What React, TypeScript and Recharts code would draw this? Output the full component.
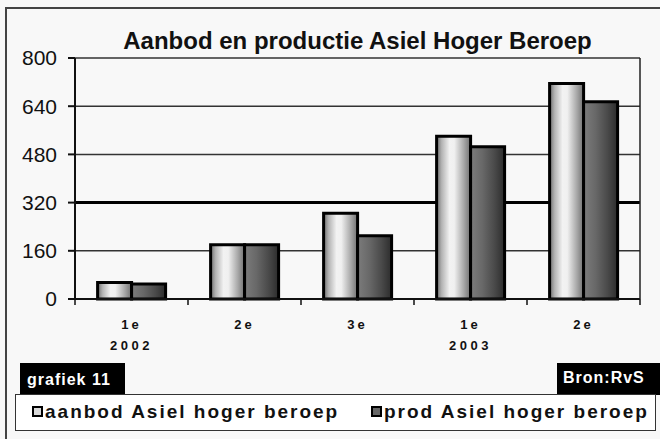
import React from 'react';
import {
  BarChart,
  Bar,
  XAxis,
  YAxis,
  CartesianGrid,
} from 'recharts';

// Kwartalen en jaren op de x-as
const quarters = ['1e', '2e', '3e', '1e', '2e'];
const years = ['2002', '', '', '2003', ''];

// Aantallen per kwartaal
const aanbod = [55, 180, 285, 540, 715];
const productie = [50, 180, 210, 505, 655];

const yTicks = [0, 160, 320, 480, 640, 800];
const boldTick = 320;

const seriesNames = ['aanbod Asiel hoger beroep', 'prod Asiel hoger beroep'];

const data = quarters.map((q, i) => ({
  key: `${q}-${i}`,
  quarter: q,
  year: years[i],
  aanbod: aanbod[i],
  prod: productie[i],
}));

const FONT = '"Liberation Sans", Arial, sans-serif';

// gridlijn; de lijn bij 320 is dikker, net als in het origineel
const GridLine = (props: any) => {
  const { x1, x2, y1, y2, index } = props;
  const thick = yTicks[index] === boldTick;
  return (
    <line
      x1={x1}
      x2={x2}
      y1={y1}
      y2={y2}
      stroke={thick ? '#000' : '#333'}
      strokeWidth={thick ? 3 : 1.5}
    />
  );
};

const QuarterTick = (props: any) => {
  const { x, y, payload, index } = props;
  const half = payload && payload.offset ? payload.offset : 0;
  const row = data[index] || data.find((d) => d.key === payload.value);
  const isLast = index === data.length - 1;
  return (
    <g>
      <line x1={x - half} y1={y} x2={x - half} y2={y + 6} stroke="#111" strokeWidth={1.5} />
      {isLast && (
        <line x1={x + half} y1={y} x2={x + half} y2={y + 6} stroke="#111" strokeWidth={1.5} />
      )}
      <text
        x={x}
        y={y}
        dy={30}
        textAnchor="middle"
        fontFamily={FONT}
        fontSize={13}
        fontWeight="bold"
        letterSpacing={3}
        fill="#111"
      >
        {row ? row.quarter : ''}
      </text>
      {row && row.year && (
        <text
          x={x}
          y={y}
          dy={51}
          textAnchor="middle"
          fontFamily={FONT}
          fontSize={13}
          fontWeight="bold"
          letterSpacing={3.5}
          fill="#111"
        >
          {row.year}
        </text>
      )}
    </g>
  );
};

const LegendSwatch = ({ fill }: { fill: string }) => (
  <span
    style={{
      display: 'inline-block',
      width: 7,
      height: 7,
      border: '2px solid #000',
      background: fill,
      marginRight: 2,
      verticalAlign: 'middle',
      position: 'relative',
      top: -1,
    }}
  />
);

export default function App() {
  return (
    <div
      style={{
        position: 'absolute',
        left: 0,
        top: 0,
        width: 660,
        height: 439,
        overflow: 'hidden',
        background: '#f8f8f8',
        fontFamily: FONT,
      }}
    >
      {/* kader om de hele grafiek */}
      <div
        style={{
          position: 'absolute',
          left: 5,
          top: 7,
          width: 700,
          height: 500,
          border: '2px solid #444',
          boxSizing: 'border-box',
        }}
      />

      <div
        style={{
          position: 'absolute',
          left: 75,
          width: 565,
          top: 26,
          textAlign: 'center',
          fontSize: 24,
          fontWeight: 'bold',
          color: '#111',
          lineHeight: '30px',
        }}
      >
        Aanbod en productie Asiel Hoger Beroep
      </div>

      <div style={{ position: 'absolute', left: 0, top: 0 }}>
        <BarChart
          width={660}
          height={439}
          data={data}
          margin={{ top: 58, right: 0, bottom: 80, left: 0 }}
          barCategoryGap="20%"
          barGap={0}
        >
          <defs>
            <linearGradient id="gradAanbod" x1="0" y1="0" x2="1" y2="0">
              <stop offset="0%" stopColor="#6e6e6e" />
              <stop offset="15%" stopColor="#b4b4b4" />
              <stop offset="38%" stopColor="#f2f2f2" />
              <stop offset="52%" stopColor="#f0f0f0" />
              <stop offset="80%" stopColor="#a8a8a8" />
              <stop offset="100%" stopColor="#707070" />
            </linearGradient>
            <linearGradient id="gradProd" x1="0" y1="0" x2="1" y2="0">
              <stop offset="0%" stopColor="#7c7c7c" />
              <stop offset="35%" stopColor="#686868" />
              <stop offset="70%" stopColor="#4a4a4a" />
              <stop offset="100%" stopColor="#2c2c2c" />
            </linearGradient>
          </defs>
          <CartesianGrid vertical={false} horizontal={GridLine} />
          <XAxis
            dataKey="key"
            height={60}
            tickLine={false}
            tickSize={0}
            tickMargin={0}
            axisLine={{ stroke: '#111', strokeWidth: 2 }}
            tick={<QuarterTick />}
            interval={0}
          />
          <YAxis
            width={75}
            domain={[0, 800]}
            ticks={yTicks}
            interval={0}
            tickSize={7}
            tickMargin={11}
            axisLine={{ stroke: '#111', strokeWidth: 2 }}
            tickLine={{ stroke: '#111', strokeWidth: 2 }}
            tick={{ fontFamily: FONT, fontSize: 21, fill: '#111' }}
          />
          <YAxis
            yAxisId="frame"
            orientation="right"
            width={20}
            domain={[0, 800]}
            tick={false}
            tickLine={false}
            axisLine={{ stroke: '#222', strokeWidth: 1.5 }}
          />
          <Bar
            dataKey="aanbod"
            name={seriesNames[0]}
            fill="url(#gradAanbod)"
            stroke="#000"
            strokeWidth={3}
            isAnimationActive={false}
          />
          <Bar
            dataKey="prod"
            name={seriesNames[1]}
            fill="url(#gradProd)"
            stroke="#000"
            strokeWidth={3}
            isAnimationActive={false}
          />
        </BarChart>
      </div>

      <div
        style={{
          position: 'absolute',
          left: 20,
          top: 363,
          width: 105,
          height: 32,
          background: '#000',
          color: '#fff',
          fontSize: 16,
          fontWeight: 'bold',
          letterSpacing: 1,
          lineHeight: '34px',
          paddingLeft: 7,
          boxSizing: 'border-box',
        }}
      >
        grafiek 11
      </div>
      <div
        style={{
          position: 'absolute',
          left: 557,
          top: 363,
          width: 110,
          height: 32,
          background: '#000',
          color: '#fff',
          fontSize: 16,
          fontWeight: 'bold',
          letterSpacing: 1,
          lineHeight: '30px',
          paddingLeft: 6,
          boxSizing: 'border-box',
        }}
      >
        Bron:RvS
      </div>

      <div
        style={{
          position: 'absolute',
          left: 15,
          top: 394,
          width: 641,
          height: 37,
          background: '#fff',
          border: '1.5px solid #333',
          boxSizing: 'border-box',
          fontSize: 19,
          fontWeight: 'bold',
          letterSpacing: 2,
          color: '#111',
          lineHeight: '33px',
          whiteSpace: 'nowrap',
        }}
      >
        <span style={{ position: 'absolute', left: 16 }}>
          <LegendSwatch fill="#d8d8d8" />
          {seriesNames[0]}
        </span>
        <span style={{ position: 'absolute', left: 355 }}>
          <LegendSwatch fill="#666" />
          {seriesNames[1]}
        </span>
      </div>
    </div>
  );
}
